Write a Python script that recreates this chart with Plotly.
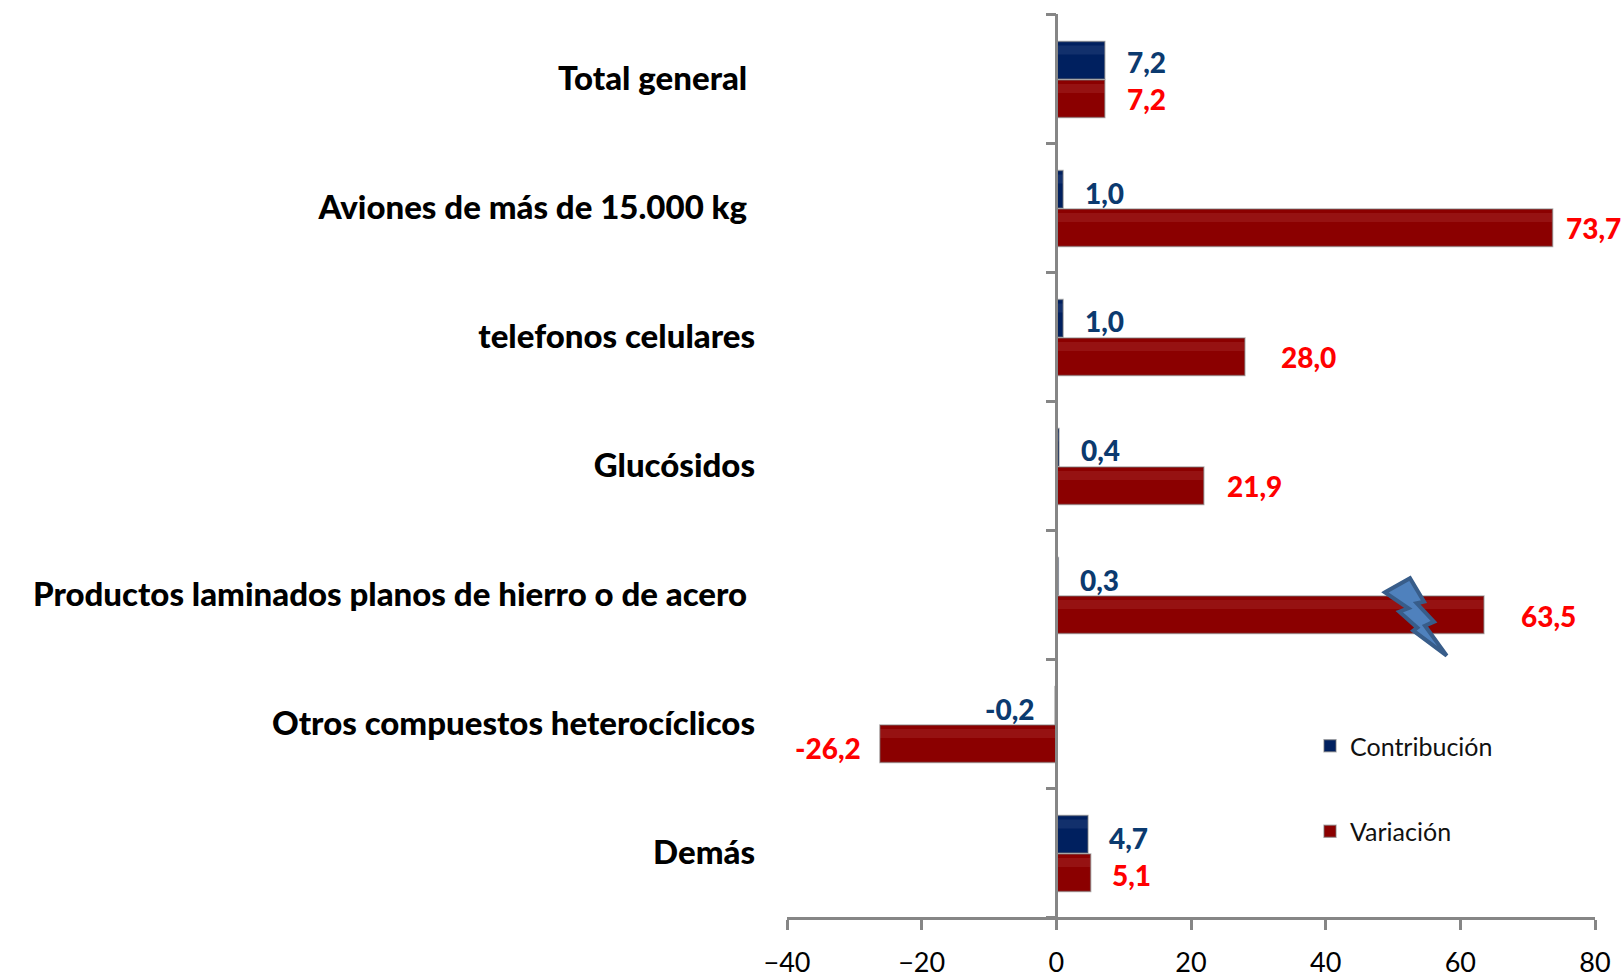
import plotly.graph_objects as go

categories = ["Total general\u00a0", "Aviones de más de 15.000 kg\u00a0", "telefonos celulares", "Glucósidos",
              "Productos laminados planos de hierro o de acero\u00a0", "Otros compuestos heterocíclicos", "Demás"]
contribucion = [7.2, 1.0, 1.0, 0.4, 0.3, -0.2, 4.7]
variacion = [7.2, 73.7, 28.0, 21.9, 63.5, -26.2, 5.1]
x_ticks = [-40, -20, 0, 20, 40, 60, 80]

# label nudges in pixels, relative to bar end and category centre
contrib_dx = [41.6, 41, 41, 41, 41, -45, 40.5]
contrib_dy = [16.5, 15, 15.5, 16, 15, 15, 15]
var_dx = [41.6, 41, 63.5, 50.5, 65, -51.5, 41]
var_dy = [-20, -20.5, -20.5, -20.5, -21.5, -24.5, -22.5]

W, H = 1624, 977
L, R, T, B = 787, 1595, 14, 917
NAVY, DARK_RED = "#00205f", "#8b0000"
NAVY_TXT, RED_TXT = "#0b3a6f", "#ff0000"
AXIS = "#868686"
FONT = "Lato"
BAR_W = 0.29
EDGE = "rgba(120,120,120,0.55)"

def fmt(v):
    return f"{v:.1f}".replace(".", ",")

fig = go.Figure()
for name, vals, col, off, hl in [("Contribución", contribucion, NAVY, -BAR_W + 0.004, "rgba(120,140,190,0.15)"),
                                 ("Variación", variacion, DARK_RED, 0.012, "rgba(210,110,110,0.16)")]:
    fig.add_bar(y=categories, x=vals, orientation="h", name=name, legendgroup=name,
                width=BAR_W, offset=off, marker=dict(color=col, line=dict(color=EDGE, width=1.5)))
    # glossy highlight strip along each bar
    fig.add_bar(y=categories, x=vals, orientation="h", showlegend=False, hoverinfo="skip",
                width=0.07, offset=off + 0.03, marker=dict(color=hl, line=dict(width=0)))

# y-axis line with ticks crossing at zero
fig.add_scatter(x=[0], y=[0], yaxis="y2", mode="markers", marker=dict(opacity=0), showlegend=False, hoverinfo="skip")

for c, v, dx, dy in zip(categories, contribucion, contrib_dx, contrib_dy):
    fig.add_annotation(x=v, y=c, text=fmt(v), showarrow=False, xshift=dx, yshift=dy,
                       font=dict(family=FONT, size=28, color=NAVY_TXT, weight=900))
for c, v, dx, dy in zip(categories, variacion, var_dx, var_dy):
    fig.add_annotation(x=v, y=c, text=fmt(v), showarrow=False, xshift=dx, yshift=dy,
                       font=dict(family=FONT, size=28, color=RED_TXT, weight=900))

# lightning bolt decoration (pixel outline converted to paper coordinates)
bolt_px = [(1385, 592.3), (1410, 578.3), (1424, 601.7), (1416.7, 603.3), (1434, 621.7), (1425, 625.7),
           (1446.7, 655.7), (1413.3, 630.7), (1417.3, 627.7), (1399.3, 611.7), (1408.3, 608.3)]
def px(p):
    return (p[0] - L) / (R - L), 1 - (p[1] - T) / (B - T)
path = "M" + " L".join(f"{px(p)[0]:.5f},{px(p)[1]:.5f}" for p in bolt_px) + " Z"
fig.add_shape(type="path", xref="paper", yref="paper", path=path, fillcolor="#4f81bd",
              line=dict(color="#385d8a", width=4), layer="above")

fig.update_layout(
    width=W, height=H, autosize=False,
    margin=dict(l=L, r=W - R, t=T, b=H - B, pad=0, autoexpand=False),
    paper_bgcolor="white", plot_bgcolor="white",
    barmode="overlay",
    font=dict(family=FONT, color="black"),
    xaxis=dict(range=[-40, 80], tickvals=x_ticks, ticks="outside", ticklen=10, tickwidth=2.5, tickcolor=AXIS,
               showline=True, linecolor=AXIS, linewidth=2.5, showgrid=False, zeroline=False, automargin=False,
               tickfont=dict(family=FONT, size=27, color="black"), ticklabelstandoff=10),
    yaxis=dict(type="category", categoryorder="array", categoryarray=categories, autorange=False,
               range=[6.5, -0.5], showgrid=False, zeroline=False, showline=False, ticks="", automargin=False,
               tickfont=dict(family=FONT, size=33, color="black", weight=900), ticklabelstandoff=31),
    yaxis2=dict(overlaying="y", anchor="free", position=1/3, side="left", range=[0, 7], tickvals=list(range(8)),
                ticks="outside", ticklen=10, tickwidth=2.5, tickcolor=AXIS, showticklabels=False, automargin=False,
                showline=True, linecolor=AXIS, linewidth=2.5, showgrid=False, zeroline=False),
    legend=dict(x=(1310 - L) / (R - L), y=1 - (723 - T) / (B - T), xanchor="left", yanchor="top",
                tracegroupgap=50, font=dict(family=FONT, size=25, color="#111111"),
                bgcolor="rgba(0,0,0,0)"),
    showlegend=True,
)
fig.write_html("out.html", post_script="document.body.style.margin='0';", config=dict(displayModeBar=False))
